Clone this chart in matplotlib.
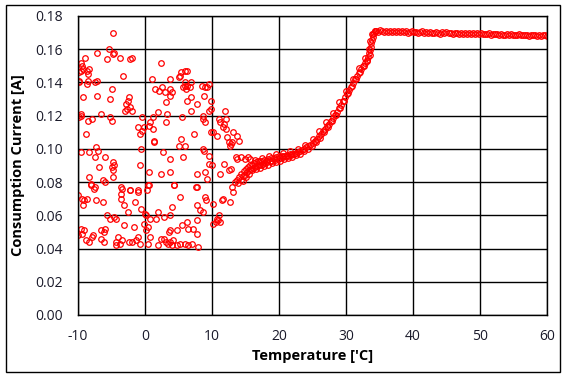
import numpy as np
import matplotlib
matplotlib.use("Agg")
import matplotlib.pyplot as plt
from matplotlib.patches import Rectangle

# scattered readings at low temperature (temp, current)
scatter_pts = [
    (-4.8, 0.170), (-5.4, 0.160), (-4.6, 0.158), (-4.8, 0.157), (-7.1, 0.158),
    (-5.6, 0.154), (-3.8, 0.155), (-2.2, 0.154), (-1.9, 0.155), (-9.0, 0.155),
    (-9.5, 0.152), (-9.4, 0.150), (-9.9, 0.146), (-9.6, 0.147), (-9.2, 0.148),
    (-8.6, 0.147), (-8.4, 0.148), (-8.5, 0.145), (-9.9, 0.141), (-9.8, 0.140),
    (-8.5, 0.141), (-8.6, 0.139), (-7.2, 0.141), (-7.4, 0.140), (-5.0, 0.136),
    (-7.2, 0.132), (-9.2, 0.131), (-5.3, 0.130), (-3.3, 0.144), (-2.4, 0.131),
    (-2.5, 0.129), (-2.8, 0.127), (-2.7, 0.124), (-3.0, 0.123), (-2.3, 0.125),
    (-1.9, 0.123), (-9.6, 0.121), (-9.8, 0.119), (-9.5, 0.120), (-6.5, 0.121),
    (-8.5, 0.117), (-7.9, 0.118), (-5.3, 0.119), (-5.0, 0.117), (-8.8, 0.109),
    (-1.1, 0.113), (-0.7, 0.109), (-0.5, 0.111), (-0.1, 0.113), (-0.4, 0.119),
    (-7.3, 0.101), (-7.0, 0.099), (-9.5, 0.098), (-8.3, 0.098), (-7.4, 0.095),
    (-5.9, 0.095), (-4.8, 0.092), (-4.6, 0.090), (-5.0, 0.089), (-6.8, 0.089),
    (-4.8, 0.087), (-0.7, 0.090), (-0.6, 0.100), (-8.4, 0.083), (-4.8, 0.083),
    (-6.2, 0.081), (-8.1, 0.079), (-8.0, 0.078), (0.6, 0.078), (-3.6, 0.077),
    (-3.5, 0.076), (-2.3, 0.075), (-1.0, 0.075), (2.4, 0.152), (1.1, 0.142),
    (3.8, 0.142), (5.2, 0.144), (5.3, 0.146), (6.0, 0.147), (6.3, 0.147),
    (5.0, 0.143), (6.0, 0.140), (6.3, 0.138), (6.8, 0.140), (6.7, 0.137),
    (6.1, 0.136), (5.6, 0.137), (5.9, 0.138), (8.5, 0.138), (9.0, 0.137),
    (9.5, 0.139), (9.3, 0.137), (1.5, 0.136), (2.1, 0.135), (2.5, 0.137),
    (3.0, 0.134), (3.8, 0.136), (3.8, 0.132), (4.0, 0.134), (3.2, 0.128),
    (6.9, 0.131), (6.2, 0.129), (8.8, 0.132), (9.9, 0.129), (7.8, 0.127),
    (6.9, 0.123), (9.6, 0.123), (9.9, 0.124), (2.0, 0.122), (3.3, 0.121),
    (1.2, 0.119), (5.5, 0.119), (8.6, 0.120), (8.7, 0.118), (9.0, 0.116),
    (0.8, 0.116), (0.6, 0.114), (3.2, 0.116), (1.2, 0.112), (7.3, 0.109),
    (9.8, 0.110), (5.4, 0.106), (1.3, 0.105), (1.4, 0.104), (5.0, 0.102),
    (6.0, 0.102), (8.6, 0.100), (8.8, 0.099), (2.7, 0.098), (9.6, 0.096),
    (3.8, 0.094), (5.6, 0.095), (9.6, 0.091), (10.0, 0.090), (0.6, 0.086),
    (2.4, 0.085), (3.8, 0.086), (7.8, 0.085), (9.0, 0.086), (9.3, 0.082),
    (4.3, 0.078), (7.7, 0.077), (11.0, 0.118), (11.2, 0.116), (11.6, 0.113),
    (11.8, 0.115), (12.1, 0.112), (12.0, 0.123), (12.1, 0.118), (10.7, 0.108),
    (10.1, 0.110), (12.3, 0.107), (12.6, 0.104), (12.9, 0.103), (13.0, 0.104),
    (12.7, 0.102), (13.1, 0.110), (13.7, 0.108), (14.1, 0.105), (11.8, 0.091),
    (11.2, 0.085), (12.5, 0.087), (12.9, 0.088), (13.6, 0.095), (13.8, 0.094),
    (14.3, 0.095), (14.9, 0.094), (15.4, 0.095), (15.6, 0.094), (13.5, 0.080),
    (13.8, 0.081), (-10.0, 0.072), (-9.4, 0.070), (-9.1, 0.069), (-8.7, 0.070),
    (-9.3, 0.066), (-7.3, 0.069), (-6.2, 0.068), (-7.6, 0.076), (-7.5, 0.077),
    (-6.0, 0.080), (-3.6, 0.073), (-3.6, 0.070), (-3.1, 0.066), (-2.2, 0.075),
    (-1.5, 0.068), (-1.1, 0.074), (0.4, 0.078), (0.3, 0.075), (-2.6, 0.062),
    (-0.6, 0.064), (0.0, 0.061), (0.1, 0.060), (-5.6, 0.060), (-5.2, 0.058),
    (-4.6, 0.059), (-4.3, 0.058), (0.8, 0.058), (1.6, 0.058), (1.9, 0.062),
    (2.9, 0.059), (3.8, 0.060), (4.1, 0.065), (4.3, 0.078), (5.2, 0.071),
    (7.7, 0.066), (7.6, 0.077), (8.2, 0.063), (8.6, 0.062), (9.0, 0.071),
    (9.1, 0.069), (10.2, 0.067), (11.6, 0.070), (11.5, 0.069), (12.7, 0.068),
    (13.1, 0.074), (13.0, 0.077), (10.2, 0.055), (10.6, 0.056), (10.8, 0.058),
    (11.0, 0.060), (11.2, 0.056), (10.9, 0.057), (-3.1, 0.054), (-1.7, 0.053),
    (-0.2, 0.055), (0.1, 0.051), (0.4, 0.053), (3.7, 0.051), (3.6, 0.050),
    (4.8, 0.051), (5.5, 0.054), (6.3, 0.056), (6.4, 0.052), (7.2, 0.052),
    (7.7, 0.057), (7.8, 0.049), (-9.6, 0.052), (-9.1, 0.051), (-9.4, 0.049),
    (-10.0, 0.048), (-8.8, 0.045), (-8.4, 0.044), (-7.9, 0.047), (-7.7, 0.048),
    (-6.5, 0.051), (-6.1, 0.050), (-5.9, 0.052), (-6.5, 0.046), (-6.1, 0.044),
    (-4.4, 0.044), (-4.3, 0.042), (-4.0, 0.047), (-3.8, 0.043), (-3.4, 0.045),
    (-2.4, 0.044), (-2.0, 0.044), (-1.3, 0.045), (-1.1, 0.047), (-0.8, 0.043),
    (0.5, 0.043), (0.8, 0.047), (2.0, 0.042), (2.4, 0.046), (2.8, 0.046),
    (3.1, 0.044), (3.5, 0.043), (3.7, 0.044), (4.0, 0.042), (4.2, 0.045),
    (4.8, 0.042), (5.2, 0.043), (6.0, 0.043), (6.4, 0.042), (7.0, 0.043),
    (7.9, 0.041),
]

# rising part of the curve
rise_pts = [
    (13.9, 0.0795), (14.1, 0.0830), (14.3, 0.0815), (14.4, 0.0850), (14.6, 0.0835),
    (14.8, 0.0865), (14.9, 0.0845), (15.1, 0.0880), (15.2, 0.0860), (15.4, 0.0890),
    (15.5, 0.0870), (15.7, 0.0900), (15.8, 0.0880), (16.0, 0.0905), (16.1, 0.0885),
    (16.3, 0.0915), (16.4, 0.0890), (16.6, 0.0920), (16.7, 0.0895), (16.9, 0.0925),
    (17.0, 0.0900), (17.2, 0.0930), (17.3, 0.0905), (17.5, 0.0925), (17.6, 0.0910),
    (17.8, 0.0935), (17.9, 0.0915), (18.1, 0.0930), (18.2, 0.0920), (18.4, 0.0940),
    (18.6, 0.0925), (18.8, 0.0945), (19.0, 0.0930), (19.2, 0.0945), (19.4, 0.0935),
    (19.6, 0.0950), (19.8, 0.0940), (20.0, 0.0955), (20.2, 0.0945), (20.4, 0.0955),
    (20.6, 0.0950), (20.8, 0.0960), (21.0, 0.0955), (21.2, 0.0965), (21.4, 0.0960),
    (21.6, 0.0968), (21.8, 0.0963), (22.0, 0.0972), (22.3, 0.0970), (22.6, 0.0978),
    (22.9, 0.0982), (23.2, 0.0990), (23.5, 0.0995), (23.8, 0.1000), (24.1, 0.1010),
    (24.4, 0.1018), (24.7, 0.1025), (25.0, 0.1035), (25.3, 0.1048), (25.6, 0.1062),
    (25.9, 0.1075), (26.2, 0.1092), (26.5, 0.1105), (26.8, 0.1120), (27.1, 0.1135),
    (27.4, 0.1150), (27.7, 0.1165), (28.0, 0.1185), (28.3, 0.1205), (28.6, 0.1222),
    (28.9, 0.1245), (29.2, 0.1265), (29.5, 0.1288), (29.8, 0.1310), (30.1, 0.1330),
    (30.4, 0.1352), (30.7, 0.1372), (31.0, 0.1395), (31.3, 0.1418), (31.6, 0.1438),
    (31.9, 0.1458), (32.2, 0.1478), (32.5, 0.1498), (32.8, 0.1515), (33.1, 0.1535),
    (33.3, 0.1555), (33.5, 0.1575), (33.6, 0.1595), (33.7, 0.1615), (33.8, 0.1635),
    (33.9, 0.1655), (34.0, 0.1675), (34.1, 0.1690), (34.2, 0.1700), (34.3, 0.1708),
    (34.4, 0.1712),
]

# second pass over the same range (readings a little off the main line)
rise_pts2 = [
    (14.6, 0.0805), (15.0, 0.0830), (15.5, 0.0850), (16.0, 0.0870), (16.5, 0.0878),
    (17.1, 0.0885), (17.7, 0.0895), (18.3, 0.0905), (18.9, 0.0912), (19.5, 0.0920),
    (20.1, 0.0930), (20.7, 0.0938), (21.3, 0.0945), (21.9, 0.0953), (22.5, 0.0962),
    (23.1, 0.0972), (23.7, 0.0985), (24.3, 0.1000), (24.9, 0.1015), (25.5, 0.1040),
    (26.1, 0.1068), (26.7, 0.1100), (27.3, 0.1132), (27.9, 0.1168), (28.5, 0.1205),
    (29.1, 0.1245), (29.7, 0.1290), (30.3, 0.1335), (30.9, 0.1378), (31.5, 0.1420),
    (32.1, 0.1460), (32.7, 0.1498), (33.2, 0.1530), (33.6, 0.1565),
    (16.4, 0.0935), (17.4, 0.0948), (18.5, 0.0958), (19.6, 0.0968), (20.6, 0.0975),
    (21.7, 0.0985), (22.8, 0.0998), (23.9, 0.1022), (25.0, 0.1060), (26.0, 0.1108),
    (27.0, 0.1160), (28.0, 0.1215), (29.0, 0.1282), (30.0, 0.1350), (31.0, 0.1420),
    (32.0, 0.1488), (32.9, 0.1545), (33.4, 0.1600), (33.6, 0.1650), (33.9, 0.1690),
]

# saturated plateau
flat_x = [34.5, 34.8, 35.1, 35.4, 35.7, 36.0, 36.3, 36.6, 36.9, 37.2,
          37.5, 37.8, 38.1, 38.4, 38.7, 39.0, 39.3, 39.6, 39.9, 40.2,
          40.5, 40.8, 41.1, 41.4, 41.7, 42.0, 42.3, 42.6, 42.9, 43.2,
          43.5, 43.8, 44.1, 44.4, 44.7, 45.0, 45.3, 45.6, 45.9, 46.2,
          46.5, 46.8, 47.1, 47.4, 47.7, 48.0, 48.3, 48.6, 48.9, 49.2,
          49.5, 49.8, 50.1, 50.4, 50.7, 51.0, 51.3, 51.6, 51.9, 52.2,
          52.5, 52.8, 53.1, 53.4, 53.7, 54.0, 54.3, 54.6, 54.9, 55.2,
          55.5, 55.8, 56.1, 56.4, 56.7, 57.0, 57.3, 57.6, 57.9, 58.2,
          58.5, 58.8, 59.1, 59.4, 59.7, 60.0]
flat_y = [0.1712, 0.1705, 0.1713, 0.1708, 0.1703, 0.1710, 0.1706, 0.1711, 0.1702, 0.1708,
          0.1704, 0.1710, 0.1701, 0.1707, 0.1703, 0.1709, 0.1700, 0.1705, 0.1708, 0.1701,
          0.1706, 0.1699, 0.1704, 0.1707, 0.1700, 0.1703, 0.1697, 0.1705, 0.1700, 0.1696,
          0.1703, 0.1699, 0.1694, 0.1701, 0.1697, 0.1702, 0.1695, 0.1699, 0.1693, 0.1700,
          0.1696, 0.1692, 0.1698, 0.1694, 0.1699, 0.1691, 0.1696, 0.1693, 0.1697, 0.1690,
          0.1695, 0.1692, 0.1696, 0.1689, 0.1694, 0.1690, 0.1695, 0.1688, 0.1693, 0.1689,
          0.1692, 0.1686, 0.1691, 0.1688, 0.1684, 0.1690, 0.1686, 0.1689, 0.1684, 0.1688,
          0.1685, 0.1689, 0.1683, 0.1687, 0.1684, 0.1688, 0.1682, 0.1686, 0.1683, 0.1687,
          0.1681, 0.1685, 0.1682, 0.1686, 0.1683, 0.1680]

xticks = [-10, 0, 10, 20, 30, 40, 50, 60]
yticks = [0.00, 0.02, 0.04, 0.06, 0.08, 0.10, 0.12, 0.14, 0.16, 0.18]

sx, sy = np.array(scatter_pts).T
rx, ry = np.array(rise_pts).T
r2x, r2y = np.array(rise_pts2).T
temp = np.concatenate([sx, rx, r2x, flat_x])
curr = np.concatenate([sy, ry, r2y, flat_y])

plt.rcParams['font.family'] = ['Open Sans', 'DejaVu Sans']
plt.rcParams['axes.unicode_minus'] = False

fig = plt.figure(figsize=(5.67, 3.79), dpi=100)
ax = fig.add_axes([0.1376, 0.1689, 0.8271, 0.7889])

ax.plot(temp, curr, linestyle='none', marker='o', markersize=4.0,
        markerfacecolor='none', markeredgecolor='red', markeredgewidth=0.9)

ax.set_xlim(-10, 60)
ax.set_ylim(0, 0.18)
ax.set_xticks(xticks)
ax.set_yticks(yticks)
ax.set_yticklabels(['%.2f' % v for v in yticks])
ax.grid(True, color='black', linewidth=1.0)
ax.set_axisbelow(True)
ax.tick_params(length=0, labelsize=10, pad=10, labelcolor='#1a1a2a')
ax.tick_params(axis='y', pad=11)
for s in ax.spines.values():
    s.set_color('black')
    s.set_linewidth(1.0)

ax.set_xlabel("Temperature ['C]", fontsize=10.5, fontweight='bold', labelpad=4)
ax.set_ylabel("Consumption Current [A]", fontsize=10.5, fontweight='bold', labelpad=7)

# outer frame of the chart area
fig.patches.append(Rectangle((0.0106, 0.018), 0.977, 0.969, transform=fig.transFigure,
                             fill=False, edgecolor='black', linewidth=1.0))

fig.savefig('out.png', dpi=100)
